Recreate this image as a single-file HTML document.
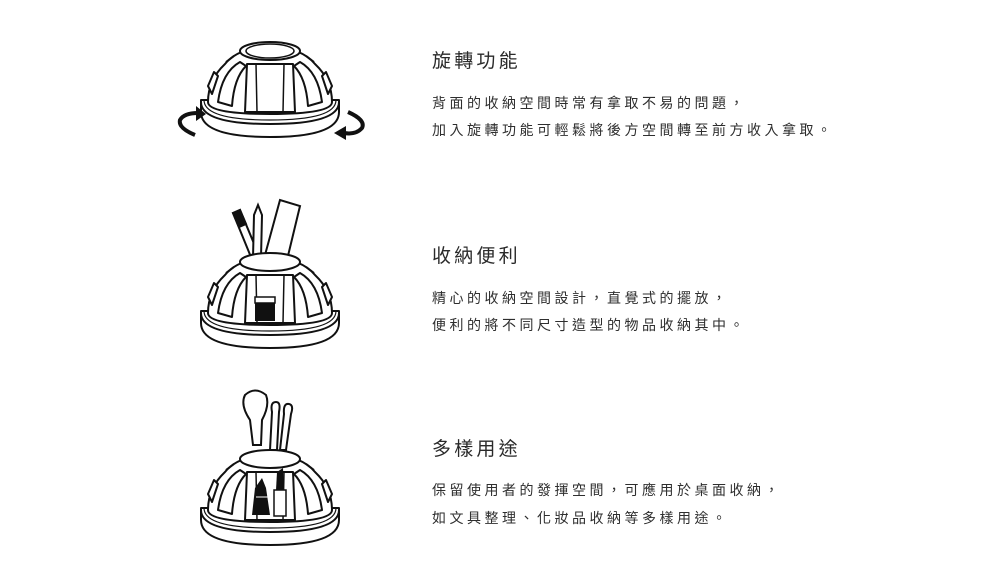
<!DOCTYPE html>
<html><head><meta charset="utf-8"><style>
html,body{margin:0;padding:0;background:#fff;}
body{width:1000px;height:586px;position:relative;overflow:hidden;font-family:"Liberation Sans","Noto Sans CJK TC",sans-serif;color:#333;}
.t{position:absolute;left:432px;font-size:19px;letter-spacing:3.2px;line-height:22px;color:#2a2a2a;}
.b{position:absolute;left:432px;font-size:14px;letter-spacing:3.5px;line-height:18px;color:#2e2e2e;}
svg{position:absolute;left:0;top:0;}
</style></head><body>
<svg width="1000" height="586" viewBox="0 0 1000 586">
<defs>
<g id="dome" fill="#fff" stroke="#111" stroke-width="2" stroke-linejoin="round">
 <path d="M-69,58 L-69,70 Q-69,95 0,95 Q69,95 69,70 L69,58 Z"/>
 <path d="M-69,60 Q-69,82 0,82 Q69,82 69,60" fill="none"/>
 <path d="M-66,58 Q-66,78 0,78 Q66,78 66,58" fill="none" stroke-width="1.2"/>
 <path d="M-62,60 Q-62,38 -45,22 Q-32,6 0,4 Q32,6 45,22 Q62,38 62,60 Q62,72 0,72 Q-62,72 -62,60 Z"/>
 <ellipse cx="0" cy="9" rx="30" ry="9"/>
 <path d="M-23,22 L23,22 L25,70 L-25,70 Z" fill="#fff"/>
 <path d="M-14,22 L-13,70 M14,22 L13,70" stroke-width="1.5"/>
 <path d="M-30,20 Q-48,30 -52,60 L-38,64 Q-36,36 -24,24 Z"/>
 <path d="M30,20 Q48,30 52,60 L38,64 Q36,36 24,24 Z"/>
 <path d="M-44,20 L-36,14 M44,20 L36,14"/>
 <path d="M-62,44 L-56,30 L-52,34 L-58,52 Z M62,44 L56,30 L52,34 L58,52 Z"/>
</g>
</defs>
<g transform="translate(270,42)">
 <use href="#dome"/>
 <ellipse cx="0" cy="9" rx="24" ry="7" fill="none" stroke="#111" stroke-width="1.5"/>
</g>
<path d="M195,135 Q178,128 180,120 Q184,113 198,113" fill="none" stroke="#111" stroke-width="4"/>
<path d="M196,106 L206,114 L196,121 Z" fill="#111"/>
<path d="M348,112 Q366,120 362,128 Q356,135 344,133" fill="none" stroke="#111" stroke-width="4"/>
<path d="M346,126 L334,133 L346,140 Z" fill="#111"/>
<g fill="#fff" stroke="#111" stroke-width="2">
 <path d="M233,213 L240,210 L260,258 L253,262 Z"/>
 <path d="M233,213 L240,210 L246,224 L239,227 Z" fill="#111"/>
 <path d="M253,258 L254,215 L258,205 L262,215 L261,258 Z"/>
 <path d="M265,255 L280,200 L300,206 L287,260 Z"/>
</g>
<g transform="translate(270,253)"><use href="#dome"/></g>
<rect x="255" y="297" width="20" height="24" fill="#111"/>
<rect x="255" y="297" width="20" height="6" fill="#fff" stroke="#111" stroke-width="1.5"/>
<g fill="#fff" stroke="#111" stroke-width="2">
 <path d="M253,445 L250,420 Q240,405 245,395 Q255,386 266,395 Q270,405 262,420 L261,445 Z"/>
 <path d="M270,450 L272,412 Q270,402 276,402 Q281,402 279,412 L277,450 Z"/>
 <path d="M280,450 L284,414 Q283,403 289,404 Q294,405 291,414 L286,450 Z"/>
</g>
<g transform="translate(270,450)"><use href="#dome"/></g>
<path d="M252,515 L255,488 L262,478 L266,488 L270,515 Z" fill="#111"/>
<path d="M256,497 L268,497" stroke="#fff" stroke-width="1"/>
<rect x="274" y="490" width="12" height="26" fill="#fff" stroke="#111" stroke-width="1.5"/>
<path d="M276,490 L277,472 L283,468 L284,490 Z" fill="#111"/>
</svg>

<div class="t" style="top:51px">旋轉功能</div>
<div class="b" style="top:94px">背面的收納空間時常有拿取不易的問題，</div>
<div class="b" style="top:121px">加入旋轉功能可輕鬆將後方空間轉至前方收入拿取。</div>

<div class="t" style="top:246px">收納便利</div>
<div class="b" style="top:289px">精心的收納空間設計，直覺式的擺放，</div>
<div class="b" style="top:316px">便利的將不同尺寸造型的物品收納其中。</div>

<div class="t" style="top:439px">多樣用途</div>
<div class="b" style="top:481px">保留使用者的發揮空間，可應用於桌面收納，</div>
<div class="b" style="top:509px">如文具整理、化妝品收納等多樣用途。</div>
</body></html>
